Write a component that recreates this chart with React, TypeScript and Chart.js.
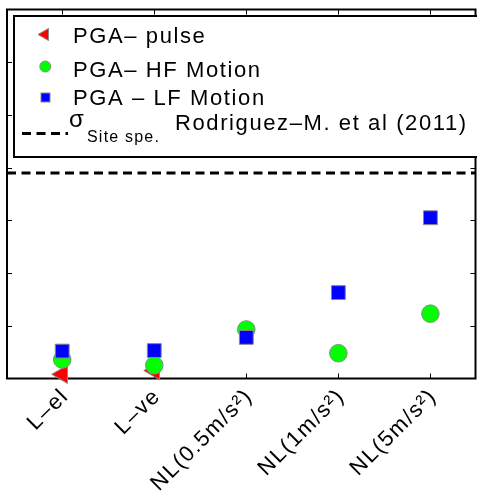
import React, { useEffect, useRef } from "react";
import { Chart, registerables } from "chart.js";

Chart.register(...registerables);

// ---- data ----
const categories = ["L–el", "L–ve", "NL(0.5m/s²)", "NL(1m/s²)", "NL(5m/s²)"];
const categoryPositions = [1, 2, 3, 4, 5];
const pgaPulse: (number | null)[] = [0.008, 0.015, null, null, null];
const pgaHF = [0.036, 0.025, 0.093, 0.048, 0.123];
const pgaLF = [0.052, 0.053, 0.078, 0.163, 0.305];
const sigmaSiteSpecific = 0.39;
const yTicks = [0, 0.1, 0.2, 0.3, 0.4, 0.5, 0.6, 0.7];
const legendLabels = ["PGA– pulse", "PGA– HF Motion", "PGA – LF Motion"];
const sigmaSymbol = "σ";
const sigmaSubscript = "Site spe.";
const sigmaReference = "Rodriguez–M. et al (2011)";

const X_MIN = 0.4;
const X_MAX = 5.49;
const Y_MIN = 0;
const Y_MAX = 0.7;

const FONT = "'Liberation Sans', Arial, Helvetica, sans-serif";
const RED = "#ff0000";
const GREEN = "#00ff00";
const BLUE = "#0000ff";
const EDGE = "#8a8a8a";

function drawTriangleLeft(ctx: CanvasRenderingContext2D, x: number, y: number, r: number) {
  ctx.beginPath();
  ctx.moveTo(x - r, y);
  ctx.lineTo(x + r / 2, y - r * 0.866);
  ctx.lineTo(x + r / 2, y + r * 0.866);
  ctx.closePath();
  ctx.fill();
  ctx.stroke();
}

const letterSpacingPlugin = {
  id: "letterSpacing",
  beforeDraw(chart: any) {
    (chart.ctx as any).letterSpacing = "1.6px";
  },
};

const framePlugin = {
  id: "frame",
  beforeDatasetsDraw(chart: any) {
    const { ctx, chartArea: a, scales } = chart;
    const xs = scales.x;
    const ys = scales.y;
    ctx.save();
    ctx.strokeStyle = "#000";
    ctx.lineWidth = 1;
    ctx.beginPath();
    categoryPositions.forEach((v) => {
      const px = Math.round(xs.getPixelForValue(v)) + 0.5;
      ctx.moveTo(px, a.top);
      ctx.lineTo(px, a.top + 5);
      ctx.moveTo(px, a.bottom);
      ctx.lineTo(px, a.bottom - 5);
    });
    yTicks.slice(1, -1).forEach((v) => {
      const py = Math.round(ys.getPixelForValue(v)) + 0.5;
      ctx.moveTo(a.left, py);
      ctx.lineTo(a.left + 5, py);
      ctx.moveTo(a.right, py);
      ctx.lineTo(a.right - 5, py);
    });
    ctx.stroke();
    ctx.lineWidth = 2;
    ctx.strokeRect(a.left, a.top, a.right - a.left, a.bottom - a.top);
    ctx.restore();
  },
};

const legendPlugin = {
  id: "customLegend",
  afterDraw(chart: any) {
    const ctx: CanvasRenderingContext2D = chart.ctx;
    ctx.save();
    (ctx as any).letterSpacing = "1.6px";
    ctx.fillStyle = "#fff";
    ctx.fillRect(14, 16, 470, 141);
    ctx.strokeStyle = "#000";
    ctx.lineWidth = 2;
    ctx.strokeRect(14, 16, 470, 141);

    // markers
    ctx.lineWidth = 1;
    ctx.strokeStyle = EDGE;
    ctx.fillStyle = RED;
    drawTriangleLeft(ctx, 45, 34.5, 7);
    ctx.fillStyle = GREEN;
    ctx.beginPath();
    ctx.arc(45.3, 66.5, 5.5, 0, Math.PI * 2);
    ctx.fill();
    ctx.stroke();
    ctx.fillStyle = BLUE;
    ctx.fillRect(41, 93, 9, 9);
    ctx.strokeRect(41, 93, 9, 9);

    // dashed line
    ctx.strokeStyle = "#000";
    ctx.lineWidth = 3;
    ctx.setLineDash([9, 5.5]);
    ctx.beginPath();
    ctx.moveTo(22, 133.5);
    ctx.lineTo(68, 133.5);
    ctx.stroke();
    ctx.setLineDash([]);

    // texts
    ctx.fillStyle = "#000";
    ctx.textBaseline = "alphabetic";
    ctx.textAlign = "left";
    ctx.font = `22px ${FONT}`;
    ctx.fillText(legendLabels[0], 73, 43);
    ctx.fillText(legendLabels[1], 73, 77);
    ctx.fillText(legendLabels[2], 73, 105);
    ctx.font = `24px ${FONT}`;
    ctx.fillText(sigmaSymbol, 69, 127);
    ctx.font = `22px ${FONT}`;
    ctx.fillText(sigmaReference, 175, 130);
    (ctx as any).letterSpacing = "1.2px";
    ctx.font = `16px ${FONT}`;
    ctx.fillText(sigmaSubscript, 87, 142);
    ctx.restore();
  },
};

export default function App() {
  const canvasRef = useRef<HTMLCanvasElement | null>(null);

  useEffect(() => {
    const canvas = canvasRef.current;
    if (!canvas) return;
    const toPoints = (vals: (number | null)[]) =>
      categoryPositions
        .map((x, i) => ({ x, y: vals[i] }))
        .filter((p) => p.y !== null) as { x: number; y: number }[];

    const chart = new Chart(canvas, {
      type: "scatter",
      data: {
        datasets: [
          {
            label: legendLabels[2],
            data: toPoints(pgaLF),
            pointStyle: "rect",
            pointRadius: 9.8,
            backgroundColor: BLUE,
            borderColor: EDGE,
            borderWidth: 1,
            clip: false as any,
          },
          {
            label: legendLabels[1],
            data: toPoints(pgaHF),
            pointStyle: "circle",
            pointRadius: 8.8,
            backgroundColor: GREEN,
            borderColor: EDGE,
            borderWidth: 1,
            clip: false as any,
          },
          {
            label: legendLabels[0],
            data: toPoints(pgaPulse),
            pointStyle: "triangle",
            rotation: -90,
            pointRadius: 10.5,
            backgroundColor: RED,
            borderColor: EDGE,
            borderWidth: 1,
            clip: false as any,
          },
          {
            label: "sigma",
            data: [
              { x: X_MIN, y: sigmaSiteSpecific },
              { x: X_MAX, y: sigmaSiteSpecific },
            ],
            showLine: true,
            borderColor: "#000",
            borderWidth: 3,
            borderDash: [9, 5.5],
            pointRadius: 0,
          } as any,
        ],
      },
      options: {
        responsive: false,
        animation: false,
        events: [],
        layout: { autoPadding: false, padding: { left: 7, right: 1.5, top: 9.5, bottom: 0 } },
        plugins: { legend: { display: false }, tooltip: { enabled: false } },
        scales: {
          x: {
            type: "linear",
            min: X_MIN,
            max: X_MAX,
            afterBuildTicks: (s: any) => {
              s.ticks = categoryPositions.map((v) => ({ value: v }));
            },
            afterFit: (s: any) => {
              s.height = 114.5;
              s.paddingLeft = 0;
              s.paddingRight = 0;
            },
            grid: { display: false, drawTicks: false },
            border: { display: false },
            ticks: {
              autoSkip: false,
              minRotation: 45,
              maxRotation: 45,
              padding: 5,
              labelOffset: 3,
              color: "#000",
              font: { family: FONT, size: 22 },
              callback: (v: any) => {
                const i = categoryPositions.indexOf(Number(v));
                return i >= 0 ? categories[i] : "";
              },
            },
          },
          y: {
            type: "linear",
            display: false,
            min: Y_MIN,
            max: Y_MAX,
          },
        },
      },
      plugins: [letterSpacingPlugin, framePlugin, legendPlugin],
    });
    return () => chart.destroy();
  }, []);

  return (
    <div style={{ position: "fixed", left: 0, top: 0, width: 477, height: 493, background: "#fff" }}>
      <canvas ref={canvasRef} width={477} height={493} style={{ display: "block" }} />
    </div>
  );
}
